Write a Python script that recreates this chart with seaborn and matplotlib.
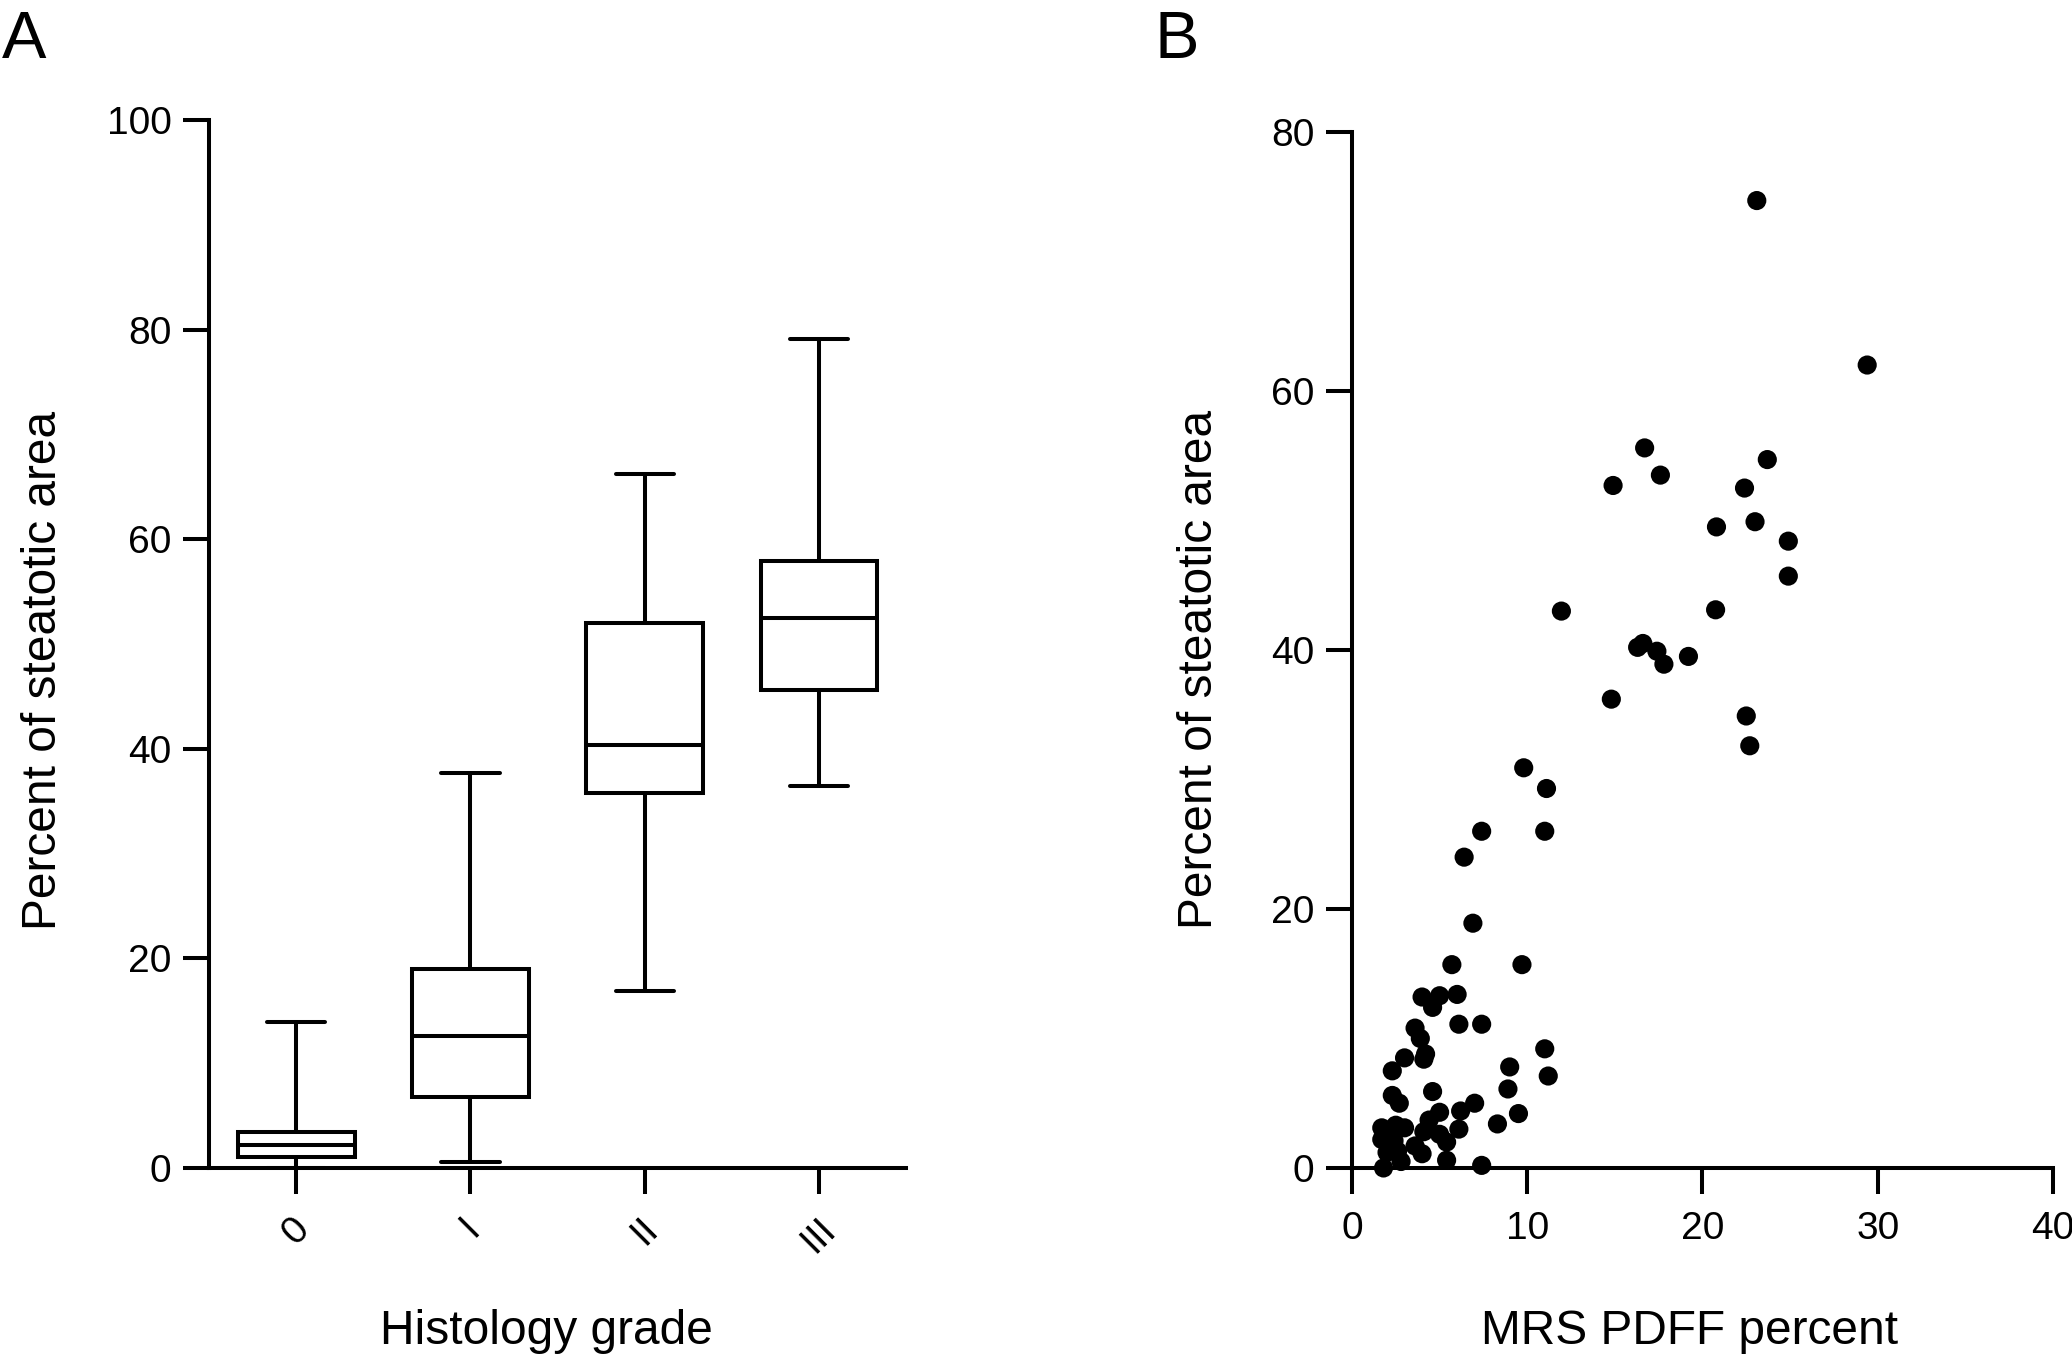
import pandas as pd
import numpy as np
import matplotlib
matplotlib.use('Agg')
import matplotlib.pyplot as plt
import seaborn as sns

# Panel A: five-number summaries per histology grade (min, Q1, median, Q3, max)
grades = ['0', 'I', 'II', 'III']
grade_min = [0.0, 0.6, 16.9, 36.4]
grade_q1 = [1.0, 6.8, 35.8, 45.6]
grade_median = [2.2, 12.6, 40.4, 52.5]
grade_q3 = [3.4, 19.0, 52.0, 57.9]
grade_max = [13.9, 37.7, 66.2, 79.1]

# Panel B: MRS PDFF vs steatotic area
pdff = [23.1, 29.4, 16.7, 17.6, 14.9, 23.7, 22.4, 23.0, 20.8, 24.9, 24.9,
        11.95, 20.75, 16.3, 16.6, 17.4, 17.8, 19.2, 14.8, 22.5, 22.7,
        9.8, 11.1, 11.0, 7.4,
        6.4, 6.9, 5.7, 9.7, 4.0, 5.0, 4.6, 6.0, 6.1, 7.4, 3.6, 3.9, 4.2, 4.1,
        3.0, 2.3, 11.0, 9.0, 11.2, 8.9, 2.3, 2.7, 4.6, 7.0, 9.5, 6.2, 5.0,
        4.4, 8.3, 6.1, 1.7, 2.5, 3.0, 4.1, 5.0, 1.7, 2.4, 5.4, 3.6, 4.0,
        2.0, 2.6, 2.8, 1.8, 5.4, 7.4, 2.2, 2.0]
area = [74.7, 62.0, 55.6, 53.5, 52.7, 54.7, 52.5, 49.9, 49.5, 48.4, 45.7,
        43.0, 43.1, 40.2, 40.5, 39.9, 38.9, 39.5, 36.2, 34.9, 32.6,
        30.9, 29.3, 26.0, 26.0,
        24.0, 18.9, 15.7, 15.7, 13.2, 13.3, 12.4, 13.4, 11.1, 11.1, 10.8, 10.0, 8.8, 8.4,
        8.5, 7.5, 9.2, 7.8, 7.1, 6.1, 5.6, 5.0, 5.9, 5.0, 4.2, 4.4, 4.3,
        3.7, 3.4, 3.0, 3.1, 3.3, 3.1, 2.8, 2.6, 2.2, 2.1, 2.0, 1.7, 1.1,
        1.2, 1.3, 0.5, 0.0, 0.6, 0.2, 1.8, 2.8]

# with 5 values per group, quartiles land exactly on the summary values
rows = []
for i, g in enumerate(grades):
    for v in [grade_min[i], grade_q1[i], grade_median[i], grade_q3[i], grade_max[i]]:
        rows.append({'grade': g, 'area': v})
box_df = pd.DataFrame(rows)
scatter_df = pd.DataFrame({'pdff': pdff, 'area': area})

sns.set_style('ticks')
plt.rcParams['font.family'] = ['Liberation Sans', 'DejaVu Sans']
lw = 2.9
plt.rcParams['axes.linewidth'] = lw
plt.rcParams['axes.edgecolor'] = 'black'
plt.rcParams['axes.labelcolor'] = 'black'
plt.rcParams['text.color'] = 'black'
plt.rcParams['xtick.color'] = 'black'
plt.rcParams['ytick.color'] = 'black'
plt.rcParams['xtick.major.width'] = lw
plt.rcParams['ytick.major.width'] = lw
plt.rcParams['xtick.major.size'] = 19
plt.rcParams['ytick.major.size'] = 19
plt.rcParams['xtick.labelsize'] = 28
plt.rcParams['ytick.labelsize'] = 28
plt.rcParams['xtick.major.pad'] = 12
plt.rcParams['ytick.major.pad'] = 8

fig = plt.figure(figsize=(20.72, 13.6), dpi=100)
ax1 = fig.add_axes([0.1009, 0.1412, 0.3364, 0.7706])
ax2 = fig.add_axes([0.6525, 0.1412, 0.3383, 0.7618])

# Panel A
sns.boxplot(data=box_df, x='grade', y='area', order=grades, whis=(0, 100),
            width=0.67, color='white', linecolor='black', linewidth=lw,
            fliersize=0, ax=ax1)
ax1.set_xlim(-0.5, 3.5)
ax1.set_ylim(0, 100)
ax1.set_yticks([0, 20, 40, 60, 80, 100])
ax1.set_xticks(range(len(grades)))
ax1.set_xticklabels(grades, rotation=45, ha='center')
ax1.set_xlabel('Histology grade', fontsize=34.5)
ax1.set_ylabel('Percent of steatotic area', fontsize=34.5)

# Panel B
sns.scatterplot(data=scatter_df, x='pdff', y='area', s=190, color='black',
                edgecolor='none', clip_on=False, ax=ax2, zorder=3)
ax2.set_xlim(0, 40)
ax2.set_ylim(0, 80)
ax2.set_xticks([0, 10, 20, 30, 40])
ax2.set_yticks([0, 20, 40, 60, 80])
ax2.set_xlabel('MRS PDFF percent', fontsize=34.5)
ax2.set_ylabel('Percent of steatotic area', fontsize=34.5)

for ax in (ax1, ax2):
    sns.despine(ax=ax)
    ax.xaxis.label.set_va('center')
    ax.yaxis.label.set_va('center')

ax1.xaxis.set_label_coords(0.4835, -0.156)
ax1.yaxis.set_label_coords(-0.237, 0.475)
ax2.xaxis.set_label_coords(0.482, -0.158)
ax2.yaxis.set_label_coords(-0.218, 0.481)

fig.text(0.001, 0.993, 'A', fontsize=48, va='top', ha='left')
fig.text(0.557, 0.993, 'B', fontsize=48, va='top', ha='left')

fig.savefig('out.png', dpi=100, facecolor='white')
